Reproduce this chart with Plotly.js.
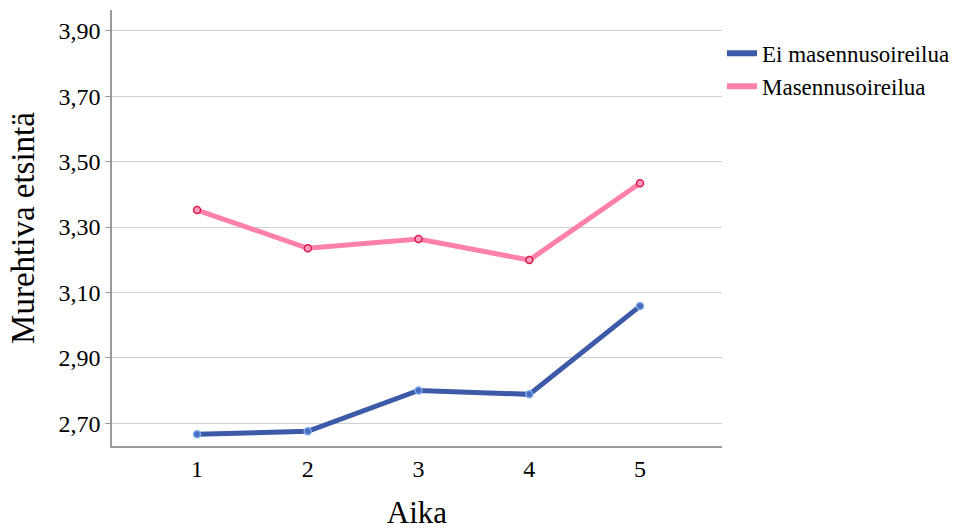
<!DOCTYPE html>
<html><head><meta charset="utf-8">
<script src="https://cdn.plot.ly/plotly-3.0.1.min.js"></script>
<style>body{margin:0;background:#fff}#c{width:960px;height:530px}</style>
</head><body><div id="c"></div>
<script>
const times = [1, 2, 3, 4, 5];
const eiMasennus = [2.666, 2.675, 2.800, 2.788, 3.058];
const masennus = [3.352, 3.235, 3.263, 3.199, 3.434];
const seriesNames = ['Ei masennusoireilua', 'Masennusoireilua'];
const yTicks = [2.7, 2.9, 3.1, 3.3, 3.5, 3.7, 3.9];

const font = 'Liberation Serif, Times New Roman, serif';
const colors = ['#3c5aa8', '#ff80ab'];
const traces = [
  {x: times, y: eiMasennus, name: seriesNames[0], type: 'scatter', mode: 'lines+markers',
   showlegend: false,
   line: {color: colors[0], width: 5},
   marker: {size: 7, color: '#4a6cc0', line: {color: '#7aa8e8', width: 1.5}}},
  {x: times, y: masennus, name: seriesNames[1], type: 'scatter', mode: 'lines+markers',
   showlegend: false,
   line: {color: colors[1], width: 5},
   marker: {size: 7, color: '#ff9cbc', line: {color: '#d81b50', width: 1.5}}},
  {x: [null], y: [null], name: seriesNames[0], type: 'scatter', mode: 'lines',
   line: {color: colors[0], width: 6}},
  {x: [null], y: [null], name: seriesNames[1], type: 'scatter', mode: 'lines',
   line: {color: colors[1], width: 6}}
];
const layout = {
  width: 960, height: 530,
  margin: {l: 112, r: 0, t: 10, b: 84},
  paper_bgcolor: '#fff', plot_bgcolor: '#fff',
  separators: ', ',
  font: {family: font, color: '#000'},
  xaxis: {domain: [0, 0.7193], range: [0.232, 5.74], tickvals: times, ticktext: times.map(String),
    showgrid: false, zeroline: false, showline: true, linecolor: '#999', linewidth: 1.5,
    ticks: '', tickfont: {size: 24, family: font},
    title: {text: 'Aika', font: {size: 31, family: font}, standoff: 28}},
  yaxis: {range: [2.63, 3.964], tickvals: yTicks, tickformat: '.2f',
    showgrid: true, gridcolor: '#cfcfcf', gridwidth: 1.3, zeroline: false,
    showline: true, linecolor: '#999', linewidth: 1.5,
    ticks: 'outside', ticklen: 5, tickcolor: '#999', tickfont: {size: 24, family: font},
    title: {text: 'Murehtiva etsintä', font: {size: 33, family: font}, standoff: 14}},
  legend: {x: 0.7193, y: 0.95, xanchor: 'left', yanchor: 'top',
    font: {size: 23, family: font}, tracegroupgap: 0, itemwidth: 30, bgcolor: 'rgba(0,0,0,0)'},
  showlegend: true
};
Plotly.newPlot('c', traces, layout, {displayModeBar: false});
</script></body></html>
